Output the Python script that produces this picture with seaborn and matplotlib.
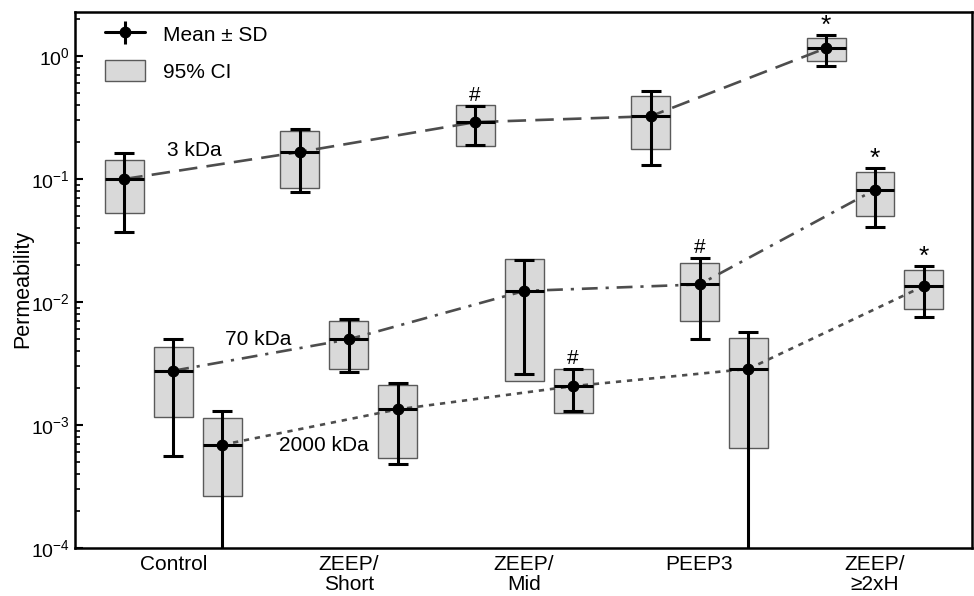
import numpy as np
import pandas as pd
import matplotlib
matplotlib.use('Agg')
import matplotlib.pyplot as plt
from matplotlib.patches import Patch
from matplotlib.container import ErrorbarContainer
from matplotlib.legend_handler import HandlerErrorbar
import seaborn as sns

# Groups on the x axis and the three tracer sizes
groups = ['Control', 'ZEEP/\nShort', 'ZEEP/\nMid', 'PEEP3', 'ZEEP/\n≥2xH']
sizes = ['3 kDa', '70 kDa', '2000 kDa']

# Mean permeability per group
mean_3 = [0.100, 0.166, 0.290, 0.324, 1.16]
mean_70 = [0.00276, 0.00497, 0.0123, 0.0139, 0.0819]
mean_2000 = [0.00069, 0.00134, 0.00207, 0.00286, 0.0135]

# Standard deviation
sd_3 = [0.063, 0.087, 0.100, 0.195, 0.33]
sd_70 = [0.0022, 0.00226, 0.0097, 0.0089, 0.041]
sd_2000 = [0.00061, 0.00086, 0.00077, 0.00288, 0.0060]

# 95% confidence interval bounds
ci_lo_3 = [0.0528, 0.085, 0.186, 0.175, 0.911]
ci_hi_3 = [0.144, 0.246, 0.397, 0.469, 1.41]
ci_lo_70 = [0.00116, 0.00285, 0.00226, 0.00701, 0.0503]
ci_hi_70 = [0.00431, 0.00701, 0.0225, 0.0207, 0.1134]
ci_lo_2000 = [0.000263, 0.000536, 0.00126, 0.000654, 0.00879]
ci_hi_2000 = [0.00113, 0.00211, 0.00286, 0.00510, 0.0183]

# Significance marks
marks_3 = ['', '', '#', '', '*']
marks_70 = ['', '', '', '#', '*']
marks_2000 = ['', '', '#', '', '*']

offsets = {'3 kDa': -0.279, '70 kDa': 0.0, '2000 kDa': 0.279}
box_w = 0.222

rows = []
for size, m, s, lo, hi, mk in zip(
        sizes,
        [mean_3, mean_70, mean_2000],
        [sd_3, sd_70, sd_2000],
        [ci_lo_3, ci_lo_70, ci_lo_2000],
        [ci_hi_3, ci_hi_70, ci_hi_2000],
        [marks_3, marks_70, marks_2000]):
    for i, g in enumerate(groups):
        rows.append({'group': g, 'size': size, 'x': i + offsets[size],
                     'mean': m[i], 'sd': s[i], 'ci_lo': lo[i], 'ci_hi': hi[i],
                     'mark': mk[i]})
df = pd.DataFrame(rows)

sns.set_theme(style='white')
plt.rcParams['font.family'] = ['Liberation Sans', 'DejaVu Sans']
plt.rcParams['mathtext.fontset'] = 'custom'
plt.rcParams['mathtext.rm'] = 'Liberation Sans'
plt.rcParams['mathtext.default'] = 'regular'
for k in ['text.color', 'axes.labelcolor', 'xtick.color', 'ytick.color']:
    plt.rcParams[k] = 'black'

fig = plt.figure(figsize=(9.74, 5.96), dpi=100)
ax = fig.add_axes([75 / 974, 1 - 548 / 596, (972 - 75) / 974, (548 - 12) / 596])
ax.set_yscale('log')

# 95% CI boxes
ax.bar(df['x'], df['ci_hi'] - df['ci_lo'], bottom=df['ci_lo'], width=box_w,
       color='#d9d9d9', edgecolor='#5a5a5a', linewidth=1.0, zorder=1)

# Connecting lines between means
sns.lineplot(data=df, x='x', y='mean', style='size', style_order=sizes,
             dashes={'3 kDa': (7, 3.5), '70 kDa': (6, 3, 1.2, 3), '2000 kDa': (2, 2.2)},
             color='#4d4d4d', linewidth=1.9, legend=False, ax=ax, zorder=2)

# Mean line across each box
ax.hlines(df['mean'], df['x'] - box_w / 2, df['x'] + box_w / 2,
          color='black', linewidth=2.2, zorder=3)

# Mean +/- SD
lower = df['mean'] - np.maximum(df['mean'] - df['sd'], 1e-9)
ax.errorbar(df['x'], df['mean'], yerr=[lower, df['sd']], fmt='o', color='black',
            markersize=7.5, elinewidth=2.2, capsize=7, capthick=2.2, zorder=4)

for _, r in df[df['mark'] != ''].iterrows():
    star = r['mark'] == '*'
    ax.annotate(r['mark'], xy=(r['x'], r['mean'] + r['sd']),
                xytext=(0, -2 if star else 1), textcoords='offset points',
                ha='center', va='bottom', fontsize=19 if star else 15)

ax.text(0.12, 0.171, '3 kDa', ha='center', va='center', fontsize=15)
ax.text(0.486, 0.00494, '70 kDa', ha='center', va='center', fontsize=15)
ax.text(0.857, 0.000676, '2000 kDa', ha='center', va='center', fontsize=15)

ax.set_xlim(-0.56, 4.553)
ax.set_ylim(1e-4, 2.28)
ax.set_xticks(range(len(groups)))
ax.set_xticklabels(groups, fontsize=15, linespacing=1.1)
ax.tick_params(axis='x', length=0, pad=5)
ax.tick_params(axis='y', which='major', direction='in', length=6, width=1.5,
               labelsize=14, left=True)
ax.tick_params(axis='y', which='minor', direction='in', length=3.5, width=1.2, left=True)
ax.set_xlabel('')
ax.set_ylabel('Permeability', fontsize=15.5)
ax.yaxis.set_label_coords(-0.046, 0.484)
for sp in ax.spines.values():
    sp.set_linewidth(1.8)
    sp.set_color('black')

# Legend
h_sd = ax.errorbar([], [], yerr=[], fmt='-o', color='black', markersize=7.5,
                   linewidth=2.2, elinewidth=2.2, capsize=7, capthick=2.2)
h_ci = Patch(facecolor='#d9d9d9', edgecolor='#5a5a5a', linewidth=1.0)
ax.legend([h_sd, h_ci], ['Mean ± SD', '95% CI'], loc='upper left',
          bbox_to_anchor=(0.013, 1.014), frameon=False, fontsize=15,
          handlelength=1.9, handleheight=1.2, labelspacing=0.72, handletextpad=0.85,
          handler_map={ErrorbarContainer: HandlerErrorbar(yerr_size=0.55)})

fig.savefig('out.png', dpi=100)
